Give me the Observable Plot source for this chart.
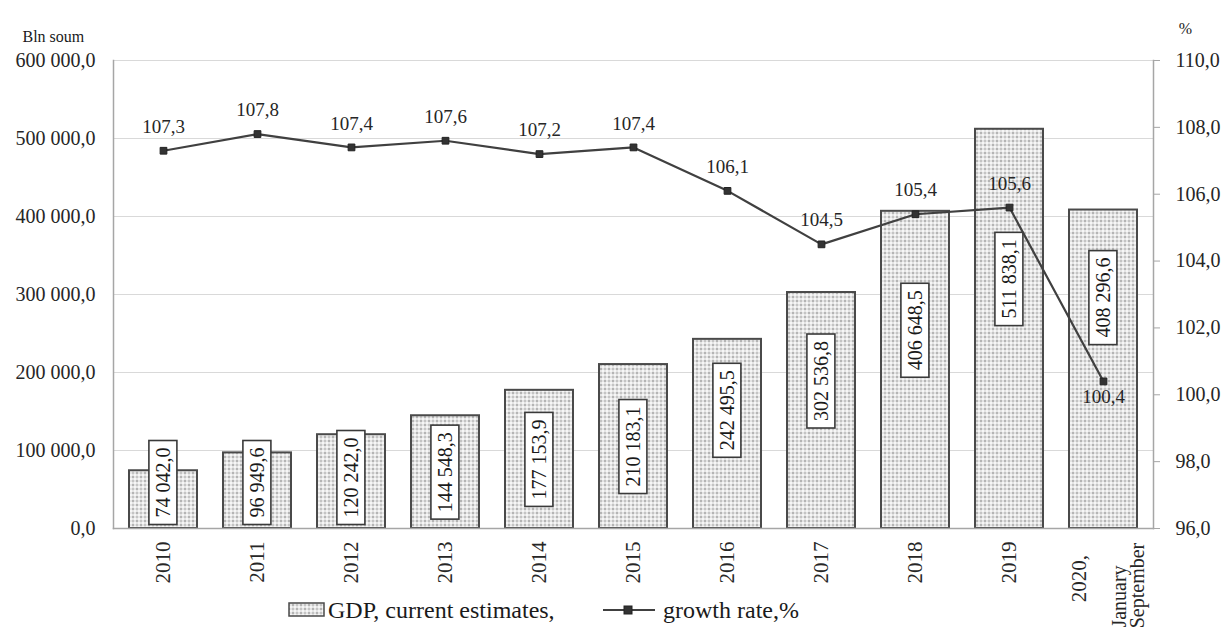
<!DOCTYPE html>
<html>
<head>
<meta charset="utf-8">
<script src="https://cdn.jsdelivr.net/npm/d3@7"></script>
<script src="https://cdn.jsdelivr.net/npm/@observablehq/plot@0.6"></script>
<style>
  body { margin: 0; background: #fff; font-family: "Liberation Serif", "Times New Roman", serif; }
  #wrap { position: relative; width: 1226px; height: 633px; overflow: hidden; }
  #wrap svg { overflow: visible; }
</style>
</head>
<body>
<div id="wrap"></div>
<script>
// ---- data ----
const years = ["2010","2011","2012","2013","2014","2015","2016","2017","2018","2019","2020"];
const gdp = [74042.0, 96949.6, 120242.0, 144548.3, 177153.9, 210183.1, 242495.5, 302536.8, 406648.5, 511838.1, 408296.6];
const growth = [107.3, 107.8, 107.4, 107.6, 107.2, 107.4, 106.1, 104.5, 105.4, 105.6, 100.4];
const yearLabels = ["2010","2011","2012","2013","2014","2015","2016","2017","2018","2019","2020,"];
const periodNote = ["January", "September"];
const leftTicks = [0, 100000, 200000, 300000, 400000, 500000, 600000];
const rightTicks = [96, 98, 100, 102, 104, 106, 108, 110];
const leftDomain = [0, 600000];
const rightDomain = [96, 110];
const seriesNames = ["GDP,  current estimates,", "growth rate,%"];
const unitLeft = "Bln soum";
const unitRight = "%";

// ---- helpers ----
const loc = d3.formatLocale({decimal: ",", thousands: " ", grouping: [3], currency: ["", ""]});
const fmtBig = loc.format(",.1f");
const fmt1 = loc.format(".1f");
const toLeft = g => (g - rightDomain[0]) / (rightDomain[1] - rightDomain[0]) * (leftDomain[1] - leftDomain[0]) + leftDomain[0];
const fromLeft = v => (v - leftDomain[0]) / (leftDomain[1] - leftDomain[0]) * (rightDomain[1] - rightDomain[0]) + rightDomain[0];

const lastIndex = years.length - 1;
const data = years.map((year, i) => ({
  year,
  gdp: gdp[i],
  growth: growth[i],
  g: toLeft(growth[i]),
  label: fmtBig(gdp[i]),
  glabel: fmt1(growth[i]),
  // label box placement inside bar (partial-year bar label sits higher, clear of the line)
  ly: gdp[i] < 230000 ? gdp[i] / 2 : gdp[i] * (i === lastIndex ? 0.725 : 0.625),
  xl: yearLabels[i]
}));
const last = data.slice(-1);
const serif = '"Liberation Serif", "Times New Roman", serif';

const chart = Plot.plot({
  width: 1226,
  height: 633,
  marginLeft: 113,
  marginRight: 73,
  marginTop: 60,
  marginBottom: 105,
  style: {fontFamily: serif, fontSize: "20px", color: "#262626", background: "transparent", overflow: "visible"},
  x: {type: "band", domain: years, paddingInner: 0.28, paddingOuter: 0.14, axis: null},
  y: {domain: leftDomain, axis: null},
  marks: [
    Plot.ruleY(leftTicks.slice(1), {stroke: "#d9d9d9", strokeWidth: 1.2}),
    Plot.barY(data, {x: "year", y: "gdp", fill: "url(#gdpHatch)", stroke: "#4a4a4a", strokeWidth: 2}),
    Plot.frame({anchor: "left", stroke: "#a6a6a6", strokeWidth: 1.5}),
    Plot.frame({anchor: "right", stroke: "#a6a6a6", strokeWidth: 1.5}),
    Plot.frame({anchor: "bottom", stroke: "#a6a6a6", strokeWidth: 1.5}),
    Plot.axisY(leftTicks, {anchor: "left", tickSize: 0, tickPadding: 18, tickFormat: fmtBig, fontSize: 20, label: null, fill: "#262626"}),
    Plot.axisY(rightTicks.map(toLeft), {anchor: "right", tickSize: 6, tickPadding: 16, tickFormat: d => fmt1(fromLeft(d)), stroke: "#a6a6a6", fill: "#262626", fontSize: 20, label: null}),
    Plot.text(data, {x: "year", y: "ly", text: "label", rotate: -90, fontSize: 20, fill: "#1a1a1a", ariaDescription: "gdp-labels"}),
    Plot.line(data, {x: "year", y: "g", stroke: "#404040", strokeWidth: 2.2}),
    Plot.dot(data, {x: "year", y: "g", symbol: "square", r: 3.8, fill: "#333", stroke: "#222", strokeWidth: 1}),
    Plot.text(data.slice(0, -1), {x: "year", y: "g", text: "glabel", dy: -24, fontSize: 19, fill: "#262626"}),
    Plot.text(last, {x: "year", y: "g", text: "glabel", dy: 15, fontSize: 19, fill: "#262626"}),
    Plot.text(data.slice(0, -1), {x: "year", y: () => 0, text: "xl", rotate: -90, textAnchor: "end", dy: 13, fontSize: 21, fill: "#262626"}),
    Plot.text(last, {x: "year", y: () => 0, text: "xl", rotate: -90, textAnchor: "middle", dx: -24, dy: 50, fontSize: 21, fill: "#262626"}),
    Plot.text(last, {x: "year", y: () => 0, text: () => periodNote[0], rotate: -90, textAnchor: "middle", dx: 16, dy: 68, fontSize: 20, fill: "#262626"}),
    Plot.text(last, {x: "year", y: () => 0, text: () => periodNote[1], rotate: -90, textAnchor: "middle", dx: 34, dy: 57, fontSize: 20, fill: "#262626"}),
    Plot.text([unitLeft], {frameAnchor: "top-left", text: d => d, dx: -91, dy: -30, textAnchor: "start", fontSize: 16, fill: "#1a1a1a"}),
    Plot.text([unitRight], {frameAnchor: "top-right", text: d => d, dx: 32, dy: -38, textAnchor: "middle", fontSize: 16, fill: "#1a1a1a"})
  ]
});

const NS = "http://www.w3.org/2000/svg";
function addPattern(svg, id) {
  const defs = document.createElementNS(NS, "defs");
  const p = document.createElementNS(NS, "pattern");
  p.setAttribute("id", id);
  p.setAttribute("patternUnits", "userSpaceOnUse");
  p.setAttribute("width", "8");
  p.setAttribute("height", "8");
  const bg = document.createElementNS(NS, "rect");
  bg.setAttribute("width", "8"); bg.setAttribute("height", "8"); bg.setAttribute("fill", "#e4e4e4");
  p.appendChild(bg);
  const dots = [
    [0,0,"#b4b4b4"],[4,0,"#c4c4c4"],[0,4,"#c4c4c4"],[4,4,"#b4b4b4"],
    [2,2,"#f6f6f6"],[6,6,"#f6f6f6"],[2,6,"#f6f6f6"],[6,2,"#f6f6f6"]
  ];
  for (const [x, y, c] of dots) {
    const r = document.createElementNS(NS, "rect");
    r.setAttribute("x", x); r.setAttribute("y", y); r.setAttribute("width", "2"); r.setAttribute("height", "2"); r.setAttribute("fill", c);
    p.appendChild(r);
  }
  defs.appendChild(p);
  svg.insertBefore(defs, svg.firstChild);
}

const wrap = document.getElementById("wrap");
wrap.appendChild(chart);
addPattern(chart, "gdpHatch");

// white boxes behind the GDP value labels
const baseY = 528;
let g = chart.querySelector('g[aria-description="gdp-labels"]');
if (!g) {
  const cands = [...chart.querySelectorAll('g[aria-label="text"]')];
  g = cands.find(c => [...c.querySelectorAll("text")].some(t => t.textContent === fmtBig(gdp[0])));
}
if (g) {
  g.querySelectorAll("text").forEach(t => {
    const bb = t.getBBox();
    const padX = 7, padY = 3;
    let tr = t.getAttribute("transform") || "";
    const m = tr.match(/translate\(\s*([-\d.e]+)[ ,]+([-\d.e]+)\s*\)/);
    if (m) {
      let tx = +m[1], ty = +m[2];
      const bottom = ty - (bb.x - padX);
      if (bottom > baseY - 4) {
        ty -= bottom - (baseY - 4);
        tr = tr.replace(m[0], `translate(${tx},${ty})`);
        t.setAttribute("transform", tr);
      }
    }
    const r = document.createElementNS(NS, "rect");
    r.setAttribute("x", bb.x - padX);
    r.setAttribute("y", bb.y - padY);
    r.setAttribute("width", bb.width + 2 * padX);
    r.setAttribute("height", bb.height + 2 * padY);
    r.setAttribute("fill", "#ffffff");
    r.setAttribute("stroke", "#3a3a3a");
    r.setAttribute("stroke-width", "1.6");
    if (tr) r.setAttribute("transform", tr);
    t.parentNode.insertBefore(r, t);
  });
}

// legend below the plot frame
const leg = document.createElementNS(NS, "svg");
leg.setAttribute("width", "1226");
leg.setAttribute("height", "36");
leg.style.position = "absolute";
leg.style.left = "0px";
leg.style.top = "592px";
addPattern(leg, "gdpHatchLegend");
leg.insertAdjacentHTML("beforeend", `
  <rect x="289" y="11" width="35" height="13" fill="url(#gdpHatchLegend)" stroke="#4a4a4a" stroke-width="1.5"></rect>
  <text x="328" y="18" dy="0.35em" font-family='${serif}' font-size="24" fill="#1a1a1a">${seriesNames[0]}</text>
  <line x1="603" y1="18" x2="655" y2="18" stroke="#404040" stroke-width="2.2"></line>
  <rect x="624" y="14" width="8" height="8" fill="#333" stroke="#222"></rect>
  <text x="663" y="18" dy="0.35em" font-family='${serif}' font-size="24" fill="#1a1a1a">${seriesNames[1]}</text>
`);
wrap.appendChild(leg);
</script>
</body>
</html>
